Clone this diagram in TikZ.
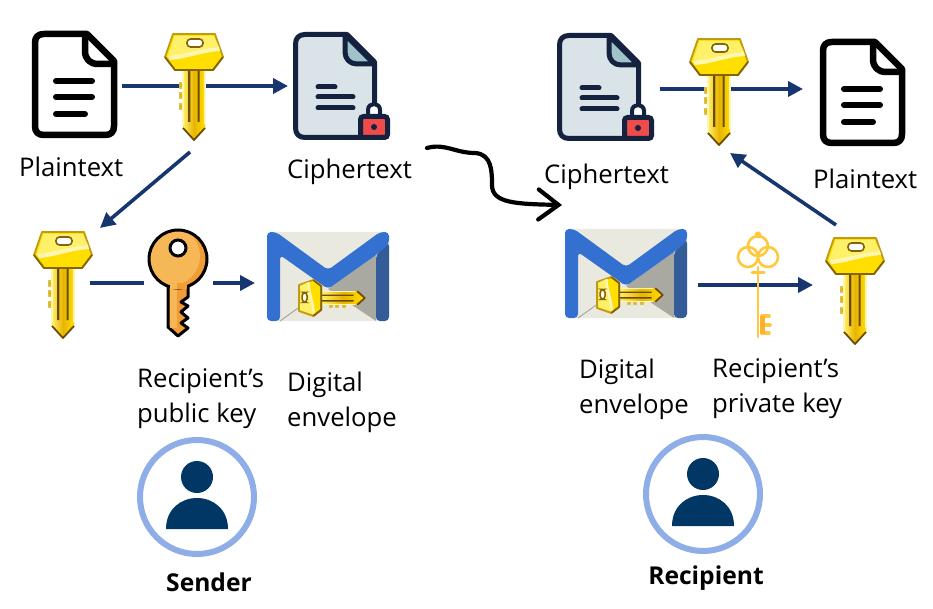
\documentclass[tikz,border=0pt]{standalone}
\usepackage{fontspec}
\usetikzlibrary{arrows.meta}
\setmainfont{Open Sans}
\definecolor{arrowblue}{HTML}{17356F}
\definecolor{keyyellow}{HTML}{FFDF00}
\definecolor{keylight}{HTML}{FFF06A}
\definecolor{keypale}{HTML}{FFF6B0}
\definecolor{keygold}{HTML}{E8B400}
\definecolor{keyedge}{HTML}{C09A14}
\definecolor{keybrown}{HTML}{6B4C00}
\definecolor{docnavy}{HTML}{14213F}
\definecolor{docpale}{HTML}{DAE4E8}
\definecolor{docfold}{HTML}{9FC2CB}
\definecolor{lockred}{HTML}{EF4B4B}
\definecolor{envblue}{HTML}{3370CF}
\definecolor{envdark}{HTML}{345C99}
\definecolor{envpaper}{HTML}{EAE9DF}
\definecolor{envgray}{HTML}{A9A9A1}
\definecolor{orangelight}{HTML}{F6B757}
\definecolor{orangedark}{HTML}{F29C38}
\definecolor{ringgold}{HTML}{FFC83D}
\definecolor{ringdark}{HTML}{FFB02E}
\definecolor{ringblue}{HTML}{8FAEE8}
\definecolor{personblue}{HTML}{003764}
\tikzset{
  linkdecorate/.style={-,line width=3.6pt,arrowblue},
  arrowdecorate/.style={linkdecorate,-{Triangle[length=15pt,width=15pt]}},
  labeldecorate/.style={font=\fontsize{25.7}{35}\selectfont,inner sep=0pt,align=left,anchor=north west},
  namedecorate/.style={font=\fontsize{24.6}{30}\selectfont\bfseries},
  pics/goldkey/.style={code={
    \draw[line width=1.2pt,keyedge!60!keypale,line join=round,fill=keygold]
      (-14.5,49) rectangle (-10,54) (-14.5,59) rectangle (-10,64) (-14.5,70) rectangle (-10,75);
    \fill[keygold,left color=keylight,right color=keyyellow,middle color=keygold]
      (-11,36) -- (11,36) -- (11,94) -- (0,106) -- (-11,94) -- cycle;
    \draw[line width=1.2pt,keypale] (-11,36) -- (-11,90) (11,36) -- (11,90);
    \draw[line width=1.8pt,keybrown,line join=round] (-11,94) -- (0,106) -- (11,94);
    \fill[keybrown] (-6,36) rectangle (-3.6,88) (3.6,36) rectangle (5.6,88);
    \draw[line width=1.8pt,keyedge,line join=round,fill=keyyellow]
      (-21,0) -- (21,0) -- (29,23) -- (19,36) -- (-19,36) -- (-29,23) -- cycle;
    \draw[line width=1.8pt,keybrown!70!keyedge,line join=round] (-29,23) -- (-19,36) -- (19,36) -- (29,23);
    \fill[keylight] (-26,22) -- (-19.5,2) -- (19.5,2) -- (25,13) .. controls (8,14) and (-8,20) .. cycle;
    \fill[keypale] (-26,22) .. controls (-8,20) and (8,14) .. (25,13) -- (26,17) .. controls (8,18) and (-8,25) .. (-24,26) -- cycle;
    \draw[line width=1.6pt,keybrown!70!keyedge,fill=white,rounded corners=3.5pt] (-7,5) rectangle (9,13);
  }},
  pics/plaindoc/.style={code={
    \draw[line width=6.5pt,black,fill=white,line join=round]
      (55,3) -- (82,30) -- (82,95) .. controls (82,101) and (79,104) .. (73,104) -- (12,104)
      .. controls (6,104) and (3,101) .. (3,95) -- (3,12) .. controls (3,6) and (6,3) .. (12,3) -- cycle;
    \draw[line width=6.5pt,black,line join=round] (53,3) -- (53,20) .. controls (53,28) and (58,33) .. (66,33) -- (82,33);
    \foreach \barend/\bary in {60/50, 60/66, 53/83} {
      \draw[line width=6pt,black,line cap=round] (24,\bary) -- (\barend,\bary);
    }
  }},
  pics/lockdoc/.style={code={
    \draw[line width=5pt,docnavy,fill=docpale,line join=round]
      (54,2.5) -- (81.5,30) -- (81.5,96) .. controls (81.5,102) and (78,105.5) .. (72,105.5) -- (12,105.5)
      .. controls (6,105.5) and (2.5,102) .. (2.5,96) -- (2.5,12) .. controls (2.5,6) and (6,2.5) .. (12,2.5) -- cycle;
    \draw[line width=5pt,docnavy,fill=docfold,line join=round] (52,2.5) -- (52,20) .. controls (52,27) and (57,32) .. (64,32) -- (81.5,32) -- cycle;
    \foreach \barend/\bary in {42/55, 60/65, 60/76} {
      \draw[line width=5pt,docnavy,line cap=round] (25,\bary) -- (\barend,\bary);
    }
    \draw[line width=4pt,docnavy,fill=white] (75,86) -- (75,78) .. controls (75,70) and (87,70) .. (87,78) -- (87,86);
    \draw[line width=5pt,docnavy,fill=lockred,rounded corners=3pt] (67.5,84.5) rectangle (94.5,105.5);
    \fill[docnavy] (81,95) circle (3);
  }},
  pics/envelope/.style={code={
    \fill[envpaper,rounded corners=5pt] (0,0) rectangle (122,89);
    \fill[envgray] (61,57) -- (109,23) -- (109,89) -- cycle;
    \draw[line width=1pt,envgray] (13,89) -- (34,74);
    \fill[envdark,rounded corners=4pt] (122,10) -- (109,23) -- (109,89) -- (122,89) -- cycle;
    \fill[envblue,rounded corners=4pt] (0,0) -- (9,0) -- (61,38) -- (113,0) -- (122,0) -- (122,12)
      -- (109,23) -- (61,57) -- (13,23) -- (13,89) -- (0,89) -- cycle;
  }},
  pics/orangekey/.style={code={
    \draw[line width=3pt,black,line join=round,fill=orangedark]
      (-10,24) -- (-10,68) -- (0,77) -- (10,69) -- (3,64) -- (10,59) -- (3,53) -- (10,47) -- (3,43) -- (10,38) -- (10,24) -- cycle;
    \fill[orangelight] (-8.5,24) rectangle (-1,69);
    \fill[orangedark] (0,0) circle (30);
    \begin{scope}
      \clip (0,0) circle (30);
      \fill[orangelight] (-8,-3) circle (30);
    \end{scope}
    \draw[line width=3pt,black] (0,0) circle (29);
    \fill[orangedark] (-8.5,24) rectangle (8.5,30);
    \fill[orangelight] (-8.5,24) rectangle (-1,30);
    \draw[line width=3pt,black,fill=white] (0,-11) circle (8);
  }},
  pics/ringkey/.style={code={
    \begin{scope}[line width=2.6pt,ringgold]
      \draw (-9,0) circle (10) (11,0) circle (10) (1,-11) circle (10);
      \fill (1,-22) circle (3.5);
      \draw[line cap=round] (1,10) -- (1,80);
      \draw[line cap=round,line width=3pt] (-5,16) -- (7,16);
      \draw[line cap=round,line width=3.6pt] (5,59) -- (12,59) (5,68) -- (13,68) (5,76) -- (12,76);
      \fill[ringdark] (2.5,59) rectangle (8,77);
    \end{scope}
  }},
  pics/person/.style={code={
    \draw[line width=6pt,ringblue] (0,0) circle (57);
    \fill[personblue] (0,-20) circle (16);
    \fill[personblue] (-31,32) .. controls (-31,12) and (-16,1) .. (0,1) .. controls (16,1) and (31,12) .. (31,32) -- cycle;
  }}
}
\begin{document}
\begin{tikzpicture}[x=1pt,y=-1pt]
\useasboundingbox (0,0) rectangle (933,609);
%% connector ends
\foreach \nodename/\x/\y in {plainout/122/86, cipherin/288/86, keyout/190/152, keyin/100/228,
  sesstail/90/283, pubin/144/283, pubout/213/283, envin/255/283,
  cipherout/660/89, plainin/803/89, envout/698/285, privin/813/285, sessout/836/225, sessin/730/153,
  wirestart/427/148, wireend/562/205} {
  \coordinate (\nodename) at (\x,\y);
}
%% lines and arrows
\path
\foreach \startnode/\endnode in {plainout/cipherin, keyout/keyin, pubout/envin, cipherout/plainin, envout/privin, sessout/sessin} {
  (\startnode) edge[arrowdecorate] (\endnode)
}
(sesstail) edge[linkdecorate] (pubin);
\draw[line width=4.2pt,black,line cap=round,line join=round,-{Straight Barb[length=20pt,width=30pt,line cap=round]}]
  (wirestart) .. controls (445,143) and (455,153) .. (475,153) .. controls (492,154) and (492,172) .. (492,185)
  .. controls (492,203) and (515,204) .. (wireend);
%% icons
\pic at (32,31) {plaindoc};
\pic at (293,32) {lockdoc};
\pic at (557,33) {lockdoc};
\pic at (820,39) {plaindoc};
\foreach \x/\y in {194/34, 63/232, 719/39, 855/238} {
  \pic at (\x,\y) {goldkey};
}
\pic at (267,232) {envelope};
\pic at (565,229) {envelope};
\pic[scale=.62,rotate=90] at (299,298) {goldkey};
\pic[scale=.62,rotate=90] at (597,295) {goldkey};
\pic at (178,259) {orangekey};
\pic at (757,257) {ringkey};
\pic at (197,497) {person};
\pic at (703,494) {person};
%% labels
\foreach \nodename/\x/\y/\labeltext in {plaintl/19/157/Plaintext, ciphertl/287/159/Ciphertext,
  ciphertr/544/164/Ciphertext, plaintr/813/169/Plaintext,
  pubkeyl/137/368/{Recipient’s\\public key}, envl/287/372/{Digital\\envelope},
  envr/579/359/{Digital\\envelope}, privkeyr/712/358/{Recipient’s\\private key}} {
  \node (\nodename) at (\x,\y) [labeldecorate] {\labeltext};
}
\node (senderl) at (209,582) [namedecorate] {Sender};
\node (recipr) at (706,578) [namedecorate] {Recipient};
\end{tikzpicture}
\end{document}
